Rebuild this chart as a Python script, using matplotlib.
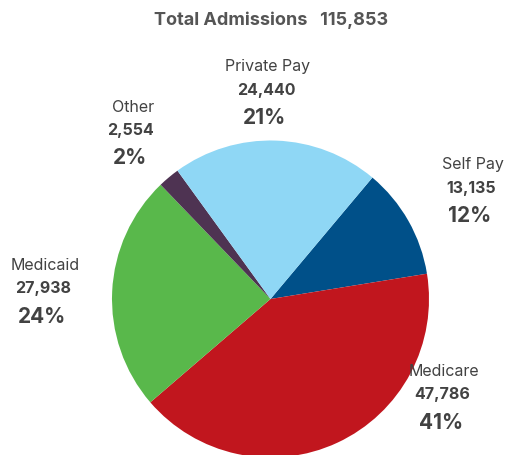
import matplotlib

matplotlib.use("Agg")
import matplotlib.pyplot as plt

# Admissions by payer (clockwise from the Self Pay slice)
categories = ["Self Pay", "Medicare", "Medicaid", "Other", "Private Pay"]
admissions = [13135, 47786, 27938, 2554, 24440]
percent_labels = ["12%", "41%", "24%", "2%", "21%"]
total_admissions = 115853

colors = ["#005089", "#C1161E", "#59B84B", "#4E3352", "#8FD7F5"]
text_color = "#424242"

W, H = 505, 455
CX, CY, R = 270.5, 299, 158.5

# label anchor positions in pixel space (name line centre)
label_pos = {
    "Self Pay": (473, 165),
    "Medicare": (444, 372),
    "Medicaid": (45, 266),
    "Other": (133, 107),
    "Private Pay": (268, 67),
}


def px(x, y):
    """Convert pixel coords (top-left origin) to data coords."""
    return (x - CX) / R, (CY - y) / R


plt.rcParams["font.family"] = ["Inter", "DejaVu Sans"]

fig = plt.figure(figsize=(W / 100, H / 100), dpi=100)
ax = fig.add_axes([0, 0, 1, 1])

ax.pie(
    admissions,
    colors=colors,
    startangle=50,
    counterclock=False,
    radius=1,
    wedgeprops={"linewidth": 0},
)
ax.set_aspect("auto")
ax.set_xlim(-CX / R, (W - CX) / R)
ax.set_ylim((CY - H) / R, CY / R)
ax.axis("off")

for name, value, pct in zip(categories, admissions, percent_labels):
    lx, ly = label_pos[name]
    ax.text(*px(lx, ly), name, ha="center", va="center", fontsize=11.5,
            color=text_color)
    ax.text(*px(lx - 2, ly + 23), f"{value:,}", ha="center", va="center",
            fontsize=11.5, fontweight="bold", color=text_color)
    ax.text(*px(lx - 3, ly + 51), pct, ha="center", va="center",
            fontsize=15, fontweight="bold", color=text_color)

ax.text(*px(271, 20), f"Total Admissions   {total_admissions:,}", ha="center",
        va="center", fontsize=13, fontweight="bold", color="#555555")

fig.savefig("out.png", dpi=100)
plt.close(fig)
